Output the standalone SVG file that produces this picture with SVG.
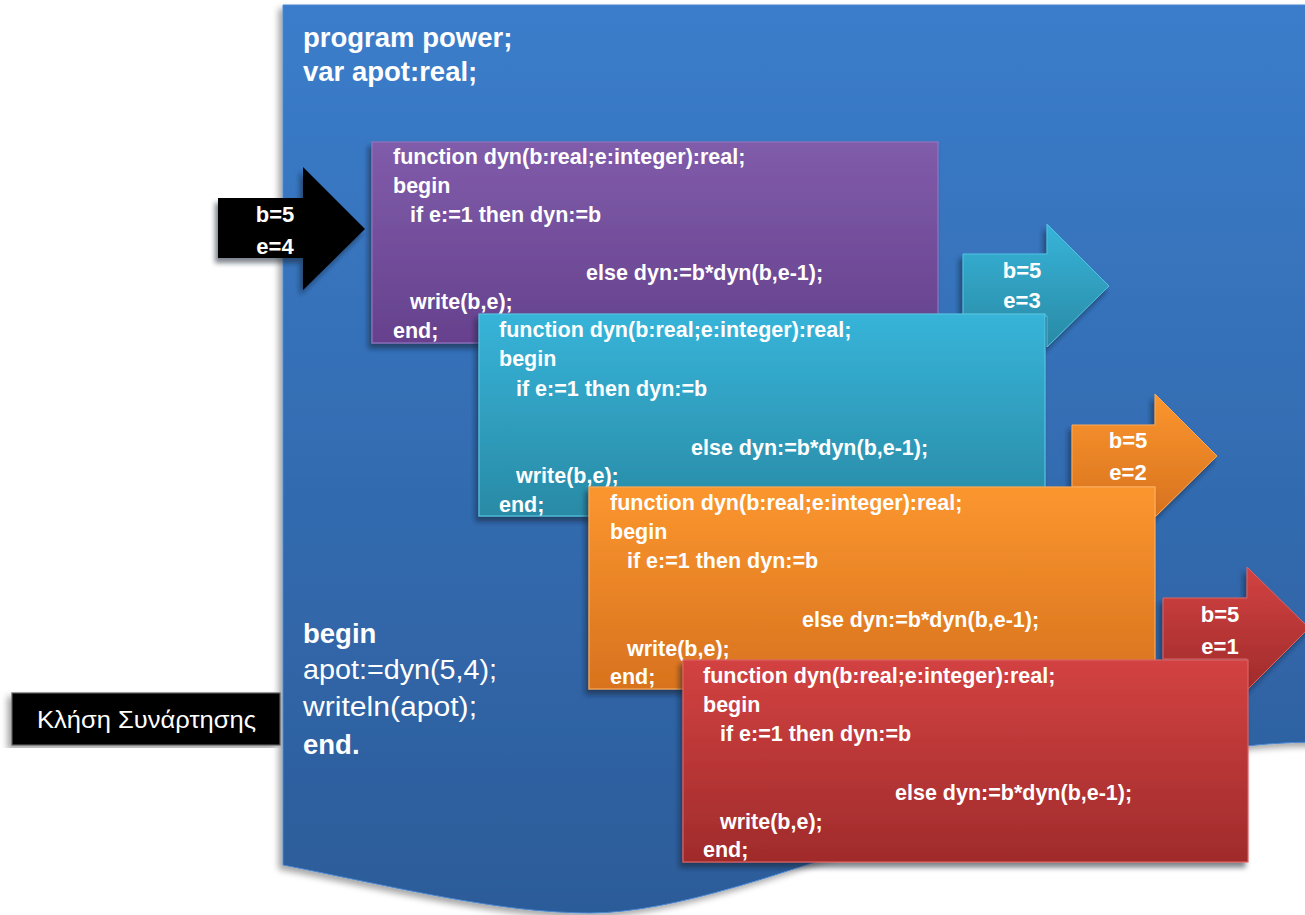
<svg xmlns="http://www.w3.org/2000/svg" width="1305" height="915" viewBox="0 0 1305 915">
<defs>
  <linearGradient id="gDoc" x1="0" y1="0" x2="0" y2="1">
    <stop offset="0" stop-color="#3B7DCB"/>
    <stop offset="1" stop-color="#2C5C99"/>
  </linearGradient>
  <linearGradient id="gPur" x1="0" y1="0" x2="0" y2="1">
    <stop offset="0" stop-color="#805CAA"/>
    <stop offset="1" stop-color="#66418D"/>
  </linearGradient>
  <linearGradient id="gTeal" x1="0" y1="0" x2="0" y2="1">
    <stop offset="0" stop-color="#37B4D9"/>
    <stop offset="1" stop-color="#298AA5"/>
  </linearGradient>
  <linearGradient id="gOra" x1="0" y1="0" x2="0" y2="1">
    <stop offset="0" stop-color="#FB962F"/>
    <stop offset="1" stop-color="#D8721E"/>
  </linearGradient>
  <linearGradient id="gRed" x1="0" y1="0" x2="0" y2="1">
    <stop offset="0" stop-color="#D34242"/>
    <stop offset="1" stop-color="#A02B2B"/>
  </linearGradient>
  <filter id="shDoc" x="-5%" y="-5%" width="110%" height="110%">
    <feDropShadow dx="-4" dy="4" stdDeviation="3" flood-color="#000" flood-opacity="0.35"/>
  </filter>
  <filter id="sh" x="-10%" y="-10%" width="120%" height="125%">
    <feDropShadow dx="-3" dy="5" stdDeviation="2.5" flood-color="#0A1A33" flood-opacity="0.55"/>
  </filter>
  <style>
    .code { font-family: "Liberation Sans", Arial, sans-serif; font-weight: bold; font-size: 21.5px; fill: #ffffff; }
    .main { font-family: "Liberation Sans", Arial, sans-serif; font-size: 27.5px; fill: #ffffff; }
    .b { font-weight: bold; }
    .arr { font-family: "Liberation Sans", Arial, sans-serif; font-weight: bold; font-size: 22px; fill: #ffffff; text-anchor: middle; }
    .lbl { font-family: "Liberation Sans", Arial, sans-serif; font-size: 23.5px; fill: #ffffff; }
  </style>
</defs>
<rect width="1305" height="915" fill="#ffffff"/>

<g id="document">
  <path d="M283,5 H1320 V742 C1050,742 760,913 590,913 C500,913 400,888 283,865 Z" fill="url(#gDoc)" stroke="#4A86D0" stroke-width="1" filter="url(#shDoc)"/>
  <text class="main b" x="303" y="47">program power;</text>
  <text class="main b" x="303" y="81">var apot:real;</text>
  <text class="main b" x="303" y="643">begin</text>
  <text class="main" x="303" y="679" textLength="194" lengthAdjust="spacingAndGlyphs">apot:=dyn(5,4);</text>
  <text class="main" x="303" y="716" textLength="174" lengthAdjust="spacingAndGlyphs">writeln(apot);</text>
  <text class="main b" x="303" y="754">end.</text>
</g>

<g id="label">
  <rect x="12" y="693" width="268" height="52" fill="#000000" stroke="#5a5a5a" stroke-width="1.2" filter="url(#shDoc)"/>
  <text class="lbl" x="37" y="728" textLength="219" lengthAdjust="spacingAndGlyphs">Κλήση Συνάρτησης</text>
</g>

<g id="connectors">
  <g id="arrow-call">
    <path d="M218,198 H303 V167 L365,229 L303,290 V258 H218 Z" fill="#000000" filter="url(#sh)"/>
    <text class="arr" x="275" y="222">b=5</text>
    <text class="arr" x="275" y="254">e=4</text>
  </g>
</g>

<g id="box1">
  <rect x="372" y="142" width="566" height="201" fill="url(#gPur)" stroke="#9274BE" stroke-width="1.2" filter="url(#sh)"/>
  <text class="code" x="393" y="163.5">function dyn(b:real;e:integer):real;</text>
  <text class="code" x="393" y="192.5">begin</text>
  <text class="code" x="410" y="221.5">if e:=1 then dyn:=b</text>
  <text class="code" x="586" y="279.5">else dyn:=b*dyn(b,e-1);</text>
  <text class="code" x="410" y="308.5">write(b,e);</text>
  <text class="code" x="393" y="337.5">end;</text>
</g>

<g id="arrow2">
  <path d="M963,254 H1047 V224 L1109,286 L1047,347 V316 H963 Z" fill="url(#gTeal)" stroke="#52C2E0" stroke-width="1" filter="url(#sh)"/>
  <text class="arr" x="1022" y="278">b=5</text>
  <text class="arr" x="1022" y="308">e=3</text>
</g>

<g id="box2">
  <rect x="479" y="314" width="566" height="202" fill="url(#gTeal)" stroke="#55C4E2" stroke-width="1.2" filter="url(#sh)"/>
  <text class="code" x="499" y="336.5">function dyn(b:real;e:integer):real;</text>
  <text class="code" x="499" y="365.5">begin</text>
  <text class="code" x="516" y="395.5">if e:=1 then dyn:=b</text>
  <text class="code" x="691" y="454.5">else dyn:=b*dyn(b,e-1);</text>
  <text class="code" x="516" y="482.5">write(b,e);</text>
  <text class="code" x="499" y="512">end;</text>
</g>

<g id="arrow3">
  <path d="M1072,425 H1155 V394 L1217,456 L1155,517 V487 H1072 Z" fill="url(#gOra)" stroke="#FBAA5A" stroke-width="1" filter="url(#sh)"/>
  <text class="arr" x="1128" y="448">b=5</text>
  <text class="arr" x="1128" y="480">e=2</text>
</g>

<g id="box3">
  <rect x="589" y="487" width="566" height="202" fill="url(#gOra)" stroke="#FBAA5A" stroke-width="1.2" filter="url(#sh)"/>
  <text class="code" x="610" y="509.5">function dyn(b:real;e:integer):real;</text>
  <text class="code" x="610" y="538.5">begin</text>
  <text class="code" x="627" y="567.5">if e:=1 then dyn:=b</text>
  <text class="code" x="802" y="626.5">else dyn:=b*dyn(b,e-1);</text>
  <text class="code" x="627" y="655.5">write(b,e);</text>
  <text class="code" x="610" y="684">end;</text>
</g>

<g id="arrow4">
  <path d="M1163,598 H1247 V567 L1309,628 L1247,690 V659 H1163 Z" fill="url(#gRed)" stroke="#DE6464" stroke-width="1" filter="url(#sh)"/>
  <text class="arr" x="1220" y="622">b=5</text>
  <text class="arr" x="1220" y="654">e=1</text>
</g>

<g id="box4">
  <rect x="683" y="660" width="565" height="202" fill="url(#gRed)" stroke="#DC6262" stroke-width="1.2" filter="url(#sh)"/>
  <text class="code" x="703" y="682.5">function dyn(b:real;e:integer):real;</text>
  <text class="code" x="703" y="711.5">begin</text>
  <text class="code" x="720" y="740.5">if e:=1 then dyn:=b</text>
  <text class="code" x="895" y="799.5">else dyn:=b*dyn(b,e-1);</text>
  <text class="code" x="720" y="828.5">write(b,e);</text>
  <text class="code" x="703" y="857">end;</text>
</g>
</svg>
